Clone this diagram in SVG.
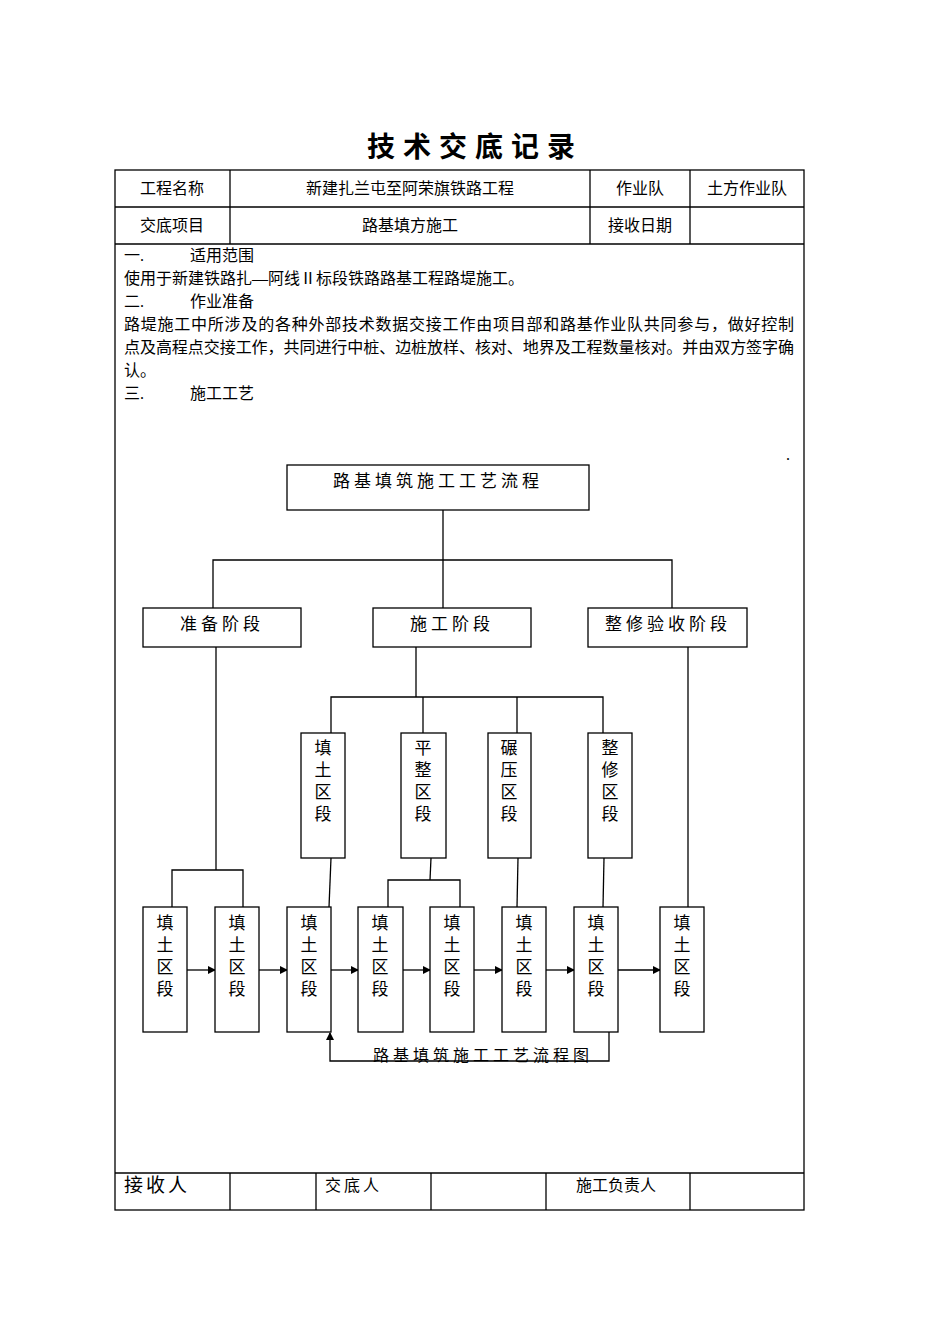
<svg xmlns="http://www.w3.org/2000/svg" width="950" height="1344" viewBox="0 0 950 1344">
<defs>
<marker id="ah" markerWidth="8" markerHeight="8" refX="7" refY="4" orient="auto" markerUnits="userSpaceOnUse"><path d="M0,0 L8,4 L0,8 z" fill="#000"/></marker>
<style>
text{font-family:"Liberation Serif","Noto Sans CJK SC",serif;fill:#000}
.t{font-size:16px}
.c{text-anchor:middle}
.b{fill:#fff;stroke:#000;stroke-width:1.3}
.l{stroke:#000;stroke-width:1.3;fill:none}
.v{font-size:17px;text-anchor:middle}
.h{font-size:17px;text-anchor:middle;letter-spacing:4px}
</style>
</defs>
<rect width="950" height="1344" fill="#fff"/>
<text x="475" y="157" class="c" style="font-size:28px;font-weight:bold;letter-spacing:8px">技术交底记录</text>
<g id="table" class="l">
<rect x="115" y="170" width="689" height="1040"/>
<line x1="115" y1="207" x2="804" y2="207"/>
<line x1="115" y1="244" x2="804" y2="244"/>
<line x1="115" y1="1173" x2="804" y2="1173"/>
<line x1="230" y1="170" x2="230" y2="244"/>
<line x1="590" y1="170" x2="590" y2="244"/>
<line x1="690" y1="170" x2="690" y2="244"/>
<line x1="230" y1="1173" x2="230" y2="1210"/>
<line x1="316" y1="1173" x2="316" y2="1210"/>
<line x1="431" y1="1173" x2="431" y2="1210"/>
<line x1="546" y1="1173" x2="546" y2="1210"/>
<line x1="690" y1="1173" x2="690" y2="1210"/>
</g>
<g id="table-text" class="t">
<text x="172" y="194" class="c">工程名称</text>
<text x="410" y="194" class="c">新建扎兰屯至阿荣旗铁路工程</text>
<text x="640" y="194" class="c">作业队</text>
<text x="747" y="194" class="c">土方作业队</text>
<text x="172" y="231" class="c">交底项目</text>
<text x="410" y="231" class="c">路基填方施工</text>
<text x="640" y="231" class="c">接收日期</text>
<text x="124" y="261">一.</text><text x="190" y="261">适用范围</text>
<text x="124" y="284">使用于新建铁路扎—阿线Ⅱ标段铁路路基工程路堤施工。</text>
<text x="124" y="307">二.</text><text x="190" y="307">作业准备</text>
<text x="124" y="330" textLength="670">路堤施工中所涉及的各种外部技术数据交接工作由项目部和路基作业队共同参与，做好控制</text>
<text x="124" y="353" textLength="670">点及高程点交接工作，共同进行中桩、边桩放样、核对、地界及工程数量核对。并由双方签字确</text>
<text x="124" y="376">认。</text>
<text x="124" y="399">三.</text><text x="190" y="399">施工工艺</text>
<text x="786" y="460">.</text>
<text x="124" y="1192" style="font-size:19px;letter-spacing:3px">接收人</text>
<text x="325" y="1191" style="letter-spacing:3px">交底人</text>
<text x="576" y="1191">施工负责人</text>
</g>
<g id="connectors" class="l">
<polyline points="443,510 443,560"/>
<polyline points="213,608 213,560 672,560 672,608"/>
<polyline points="443,560 443,608"/>
<polyline points="216,647 216,870"/>
<polyline points="172,907 172,870 243,870 243,907"/>
<polyline points="416,647 416,697"/>
<polyline points="331,733 331,697 603,697 603,733"/>
<line x1="423" y1="697" x2="423" y2="733"/>
<line x1="517" y1="697" x2="517" y2="733"/>
<polyline points="331,858 329,907"/>
<polyline points="431,858 430,880"/>
<polyline points="388,907 388,880 460,880 460,907"/>
<polyline points="518,858 517,907"/>
<polyline points="604,858 603,907"/>
<polyline points="688,647 688,907"/>
<line x1="187" y1="970" x2="215" y2="970" marker-end="url(#ah)"/>
<line x1="259" y1="970" x2="287" y2="970" marker-end="url(#ah)"/>
<line x1="331" y1="970" x2="358" y2="970" marker-end="url(#ah)"/>
<line x1="403" y1="970" x2="430" y2="970" marker-end="url(#ah)"/>
<line x1="474" y1="970" x2="502" y2="970" marker-end="url(#ah)"/>
<line x1="546" y1="970" x2="574" y2="970" marker-end="url(#ah)"/>
<line x1="618" y1="970" x2="660" y2="970" marker-end="url(#ah)"/>
<polyline points="609,1032 609,1061 330,1061 330,1033" marker-end="url(#ah)"/>
</g>
<g id="n-title"><rect class="b" x="287" y="465" width="302" height="45"/><text x="438" y="487" class="h">路基填筑施工工艺流程</text></g>
<g id="n-prep"><rect class="b" x="143" y="608" width="158" height="39"/><text x="222" y="630" class="h">准备阶段</text></g>
<g id="n-cons"><rect class="b" x="373" y="608" width="158" height="39"/><text x="452" y="630" class="h">施工阶段</text></g>
<g id="n-fix"><rect class="b" x="588" y="608" width="159" height="39"/><text x="668" y="630" class="h">整修验收阶段</text></g>
<g id="n-v1"><rect class="b" x="301" y="733" width="44" height="125"/><text class="v" x="323" y="754">填</text><text class="v" x="323" y="776">土</text><text class="v" x="323" y="798">区</text><text class="v" x="323" y="820">段</text></g>
<g id="n-v2"><rect class="b" x="401" y="733" width="45" height="125"/><text class="v" x="423" y="754">平</text><text class="v" x="423" y="776">整</text><text class="v" x="423" y="798">区</text><text class="v" x="423" y="820">段</text></g>
<g id="n-v3"><rect class="b" x="488" y="733" width="43" height="125"/><text class="v" x="509" y="754">碾</text><text class="v" x="509" y="776">压</text><text class="v" x="509" y="798">区</text><text class="v" x="509" y="820">段</text></g>
<g id="n-v4"><rect class="b" x="588" y="733" width="44" height="125"/><text class="v" x="610" y="754">整</text><text class="v" x="610" y="776">修</text><text class="v" x="610" y="798">区</text><text class="v" x="610" y="820">段</text></g>
<g id="n-b1"><rect class="b" x="143" y="907" width="44" height="125"/><text class="v" x="165" y="929">填</text><text class="v" x="165" y="951">土</text><text class="v" x="165" y="973">区</text><text class="v" x="165" y="995">段</text></g>
<g id="n-b2"><rect class="b" x="215" y="907" width="44" height="125"/><text class="v" x="237" y="929">填</text><text class="v" x="237" y="951">土</text><text class="v" x="237" y="973">区</text><text class="v" x="237" y="995">段</text></g>
<g id="n-b3"><rect class="b" x="287" y="907" width="44" height="125"/><text class="v" x="309" y="929">填</text><text class="v" x="309" y="951">土</text><text class="v" x="309" y="973">区</text><text class="v" x="309" y="995">段</text></g>
<g id="n-b4"><rect class="b" x="358" y="907" width="45" height="125"/><text class="v" x="380" y="929">填</text><text class="v" x="380" y="951">土</text><text class="v" x="380" y="973">区</text><text class="v" x="380" y="995">段</text></g>
<g id="n-b5"><rect class="b" x="430" y="907" width="44" height="125"/><text class="v" x="452" y="929">填</text><text class="v" x="452" y="951">土</text><text class="v" x="452" y="973">区</text><text class="v" x="452" y="995">段</text></g>
<g id="n-b6"><rect class="b" x="502" y="907" width="44" height="125"/><text class="v" x="524" y="929">填</text><text class="v" x="524" y="951">土</text><text class="v" x="524" y="973">区</text><text class="v" x="524" y="995">段</text></g>
<g id="n-b7"><rect class="b" x="574" y="907" width="44" height="125"/><text class="v" x="596" y="929">填</text><text class="v" x="596" y="951">土</text><text class="v" x="596" y="973">区</text><text class="v" x="596" y="995">段</text></g>
<g id="n-b8"><rect class="b" x="660" y="907" width="44" height="125"/><text class="v" x="682" y="929">填</text><text class="v" x="682" y="951">土</text><text class="v" x="682" y="973">区</text><text class="v" x="682" y="995">段</text></g>
<text x="483" y="1061" class="h" style="font-size:16px">路基填筑施工工艺流程图</text>
</svg>
